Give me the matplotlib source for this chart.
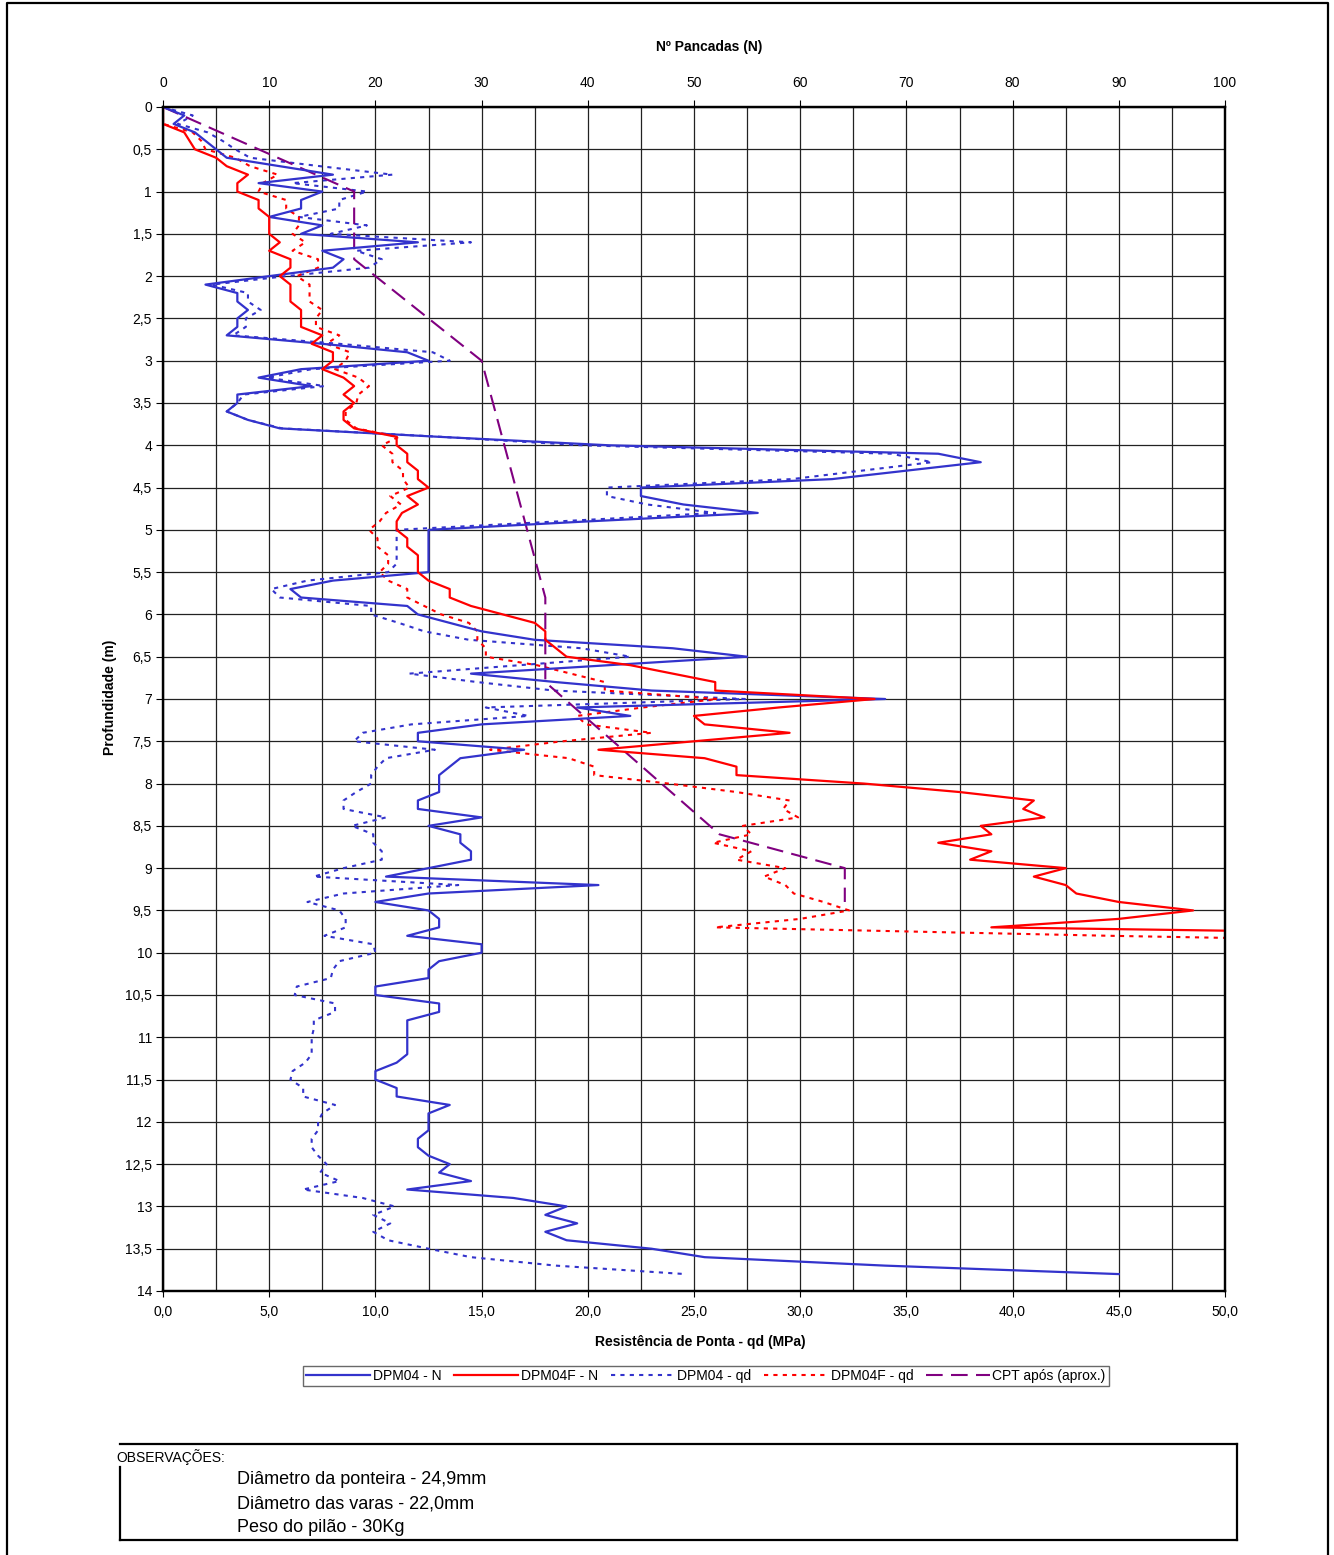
import numpy as np
import matplotlib
matplotlib.use('Agg')
import matplotlib.pyplot as plt
from matplotlib.lines import Line2D
from matplotlib.ticker import FuncFormatter, MultipleLocator

plt.rcParams['font.family'] = ['Liberation Sans', 'DejaVu Sans']

# DPM04 - blows per 10 cm, from 0,0 m every 0,1 m
n_dpm04 = [0, 2, 1, 3, 4, 5, 6, 11, 16, 9,
           15, 13, 13, 10, 15, 13, 24, 15, 17, 16,
           10, 4, 7, 7, 8, 7, 7, 6, 15, 23,
           25, 13, 9, 14, 7, 7, 6, 8, 11, 26,
           42, 73, 77, 70, 63, 45, 45, 49, 56, 40,
           25, 25, 25, 25, 25, 25, 16, 12, 13, 23,
           24, 27, 30, 35, 48, 55, 42, 29, 37, 46,
           68, 39, 44, 30, 24, 24, 34, 28, 27, 26,
           26, 26, 24, 24, 30, 25, 28, 28, 29, 29,
           25, 21, 41, 25, 20, 25, 26, 26, 23, 30,
           30, 26, 25, 25, 20, 20, 26, 26, 23, 23,
           23, 23, 23, 22, 20, 20, 22, 22, 27, 25,
           25, 25, 24, 24, 25, 27, 26, 29, 23, 33,
           38, 36, 39, 36, 38, 46, 51, 68, 90]

# DPM04 - qd (MPa)
qd_dpm04 = [0, 1.4, 0.7, 2.1, 2.8, 3.4, 4.1, 7.4, 10.8, 6.1,
            9.6, 8.3, 8.3, 6.4, 9.6, 7.9, 14.5, 9.1, 10.3, 9.7,
            5.8, 2.3, 4.0, 4.0, 4.6, 3.9, 3.9, 3.3, 8.3, 12.7,
            13.5, 7.0, 4.9, 7.6, 3.8, 3.5, 3.0, 4.0, 5.6, 13.1,
            19.7, 34.3, 36.2, 32.9, 29.6, 20.9, 20.9, 22.8, 26.0, 18.6,
            11.0, 11.0, 11.0, 11.0, 11.0, 10.6, 6.8, 5.1, 5.5, 9.8,
            9.8, 11.1, 12.3, 14.4, 19.7, 22.0, 16.8, 11.6, 14.8, 18.4,
            27.4, 15.2, 17.2, 11.7, 9.4, 9.0, 12.8, 10.5, 10.1, 9.8,
            9.8, 9.1, 8.5, 8.5, 10.5, 8.9, 9.9, 9.9, 10.3, 10.3,
            8.5, 7.1, 13.9, 8.5, 6.8, 8.3, 8.6, 8.6, 7.6, 9.9,
            10.0, 8.3, 8.0, 7.9, 6.3, 6.2, 8.1, 8.1, 7.1, 7.1,
            7.0, 7.0, 7.0, 6.7, 6.1, 6.0, 6.6, 6.6, 8.1, 7.5,
            7.3, 7.3, 7.0, 7.0, 7.3, 7.7, 7.4, 8.3, 6.6, 9.4,
            10.9, 9.9, 10.7, 9.9, 10.6, 12.5, 14.5, 18.5, 24.6]

# DPM04F - blows per 10 cm
n_dpm04f = [0, 0, 0, 2, 2.5, 3, 5, 6, 8, 7,
            7, 9, 9, 10, 10, 10, 11, 10, 12, 12,
            11, 12, 12, 12, 13, 13, 13, 15, 14, 16,
            16, 15, 17, 18, 17, 18, 17, 17, 18, 22,
            22, 23, 23, 24, 24, 25, 23, 24, 22.5, 22,
            22, 23, 23, 24, 24, 24, 25, 27, 27, 29,
            32, 35, 36, 36, 37, 38, 44, 48, 52, 52,
            67, 58, 50, 51, 59, 50, 41, 51, 54, 54,
            66, 75, 82, 81, 83, 77, 78, 73, 78, 76,
            85, 82, 85, 86, 90, 97, 90, 78, 134, 200]

# DPM04F - qd (MPa)
qd_dpm04f = [0, 0, 0, 1.4, 1.8, 2.0, 3.4, 4.1, 5.4, 4.7,
             4.5, 5.8, 5.8, 6.4, 6.4, 6.1, 6.7, 6.1, 7.3, 7.3,
             6.3, 6.9, 6.9, 6.9, 7.5, 7.2, 7.2, 8.3, 7.7, 8.8,
             8.6, 8.1, 9.2, 9.7, 9.2, 9.1, 8.6, 8.6, 9.1, 11.1,
             10.3, 10.8, 10.8, 11.3, 11.3, 11.6, 10.7, 11.2, 10.5, 10.2,
             9.7, 10.1, 10.1, 10.6, 10.6, 10.2, 10.6, 11.5, 11.5, 12.3,
             13.1, 14.4, 14.8, 14.8, 15.2, 15.2, 17.6, 19.2, 20.8, 20.8,
             26.1, 22.6, 19.5, 19.9, 23.0, 18.8, 15.4, 19.1, 20.3, 20.3,
             23.8, 27.0, 29.5, 29.2, 29.9, 27.3, 27.7, 25.9, 27.7, 27.0,
             29.3, 28.3, 29.3, 29.7, 31.1, 32.3, 30.0, 26.0, 44.6, 66.6]

# CPT after (approx.)
cpt_depth = [0.0, 1.0, 1.8, 3.0, 5.8, 6.8, 8.6, 9.0, 9.4]
cpt_qc = [0.0, 9.0, 9.0, 15.0, 18.0, 18.0, 26.2, 32.1, 32.1]

depth_a = np.arange(len(n_dpm04)) / 10
depth_b = np.arange(len(n_dpm04f)) / 10

W, H = 1334, 1555
fig = plt.figure(figsize=(W / 100, H / 100), dpi=100)


def fx(px):
    return px / W


def fy(py):
    return 1 - py / H


ax = fig.add_axes([fx(163), fy(1291), fx(1225) - fx(163), fy(107) - fy(1291)])
ax2 = ax.twiny()

blue = '#3333cc'
red = '#ff0000'
purple = '#800080'

l3, = ax.plot(qd_dpm04, depth_a, color=blue, lw=1.5, ls=(0, (2, 2.5)), label='DPM04 - qd')
l4, = ax.plot(qd_dpm04f, depth_b, color=red, lw=1.5, ls=(0, (2, 2.5)), label='DPM04F - qd')
l5, = ax.plot(cpt_qc, cpt_depth, color=purple, lw=1.5, ls=(0, (8, 4)), label='CPT após (aprox.)')
l1, = ax2.plot(n_dpm04, depth_a, color=blue, lw=1.6, label='DPM04 - N')
l2, = ax2.plot(n_dpm04f, depth_b, color=red, lw=1.6, label='DPM04F - N')

ax.set_xlim(0, 50)
ax2.set_xlim(0, 100)
ax.set_ylim(14, 0)

ax.xaxis.set_major_locator(MultipleLocator(5))
ax.xaxis.set_minor_locator(MultipleLocator(2.5))
ax.xaxis.set_major_formatter(FuncFormatter(lambda v, p: f'{v:.1f}'.replace('.', ',')))
ax.yaxis.set_major_locator(MultipleLocator(0.5))


def yfmt(v, p):
    if abs(v - round(v)) < 1e-6:
        return str(int(round(v)))
    return f'{v:.1f}'.replace('.', ',')


ax.yaxis.set_major_formatter(FuncFormatter(yfmt))
ax2.xaxis.set_major_locator(MultipleLocator(10))

ax.grid(True, which='both', axis='x', color='#222222', lw=0.9)
ax.grid(True, which='major', axis='y', color='#222222', lw=0.9)
ax.set_axisbelow(True)

ax.tick_params(axis='x', which='major', labelsize=10, length=4, pad=6, direction='out')
ax.tick_params(axis='x', which='minor', length=0)
ax.tick_params(axis='y', labelsize=10, length=5, pad=3, direction='out')
ax2.tick_params(axis='x', labelsize=10, length=5, pad=7, direction='out')

for a in (ax, ax2):
    for s in a.spines.values():
        s.set_linewidth(1.6)
        s.set_color('black')

fig.text(fx(709), fy(47), 'Nº Pancadas (N)', ha='center', va='center', fontsize=10, fontweight='bold')
fig.text(fx(700), fy(1342), 'Resistência de Ponta - qd (MPa)', ha='center', va='center',
         fontsize=10, fontweight='bold')
fig.text(fx(110), fy(697), 'Profundidade (m)', ha='center', va='center', rotation=90,
         fontsize=10, fontweight='bold')

leg = fig.legend(handles=[l1, l2, l3, l4, l5], loc='center', bbox_to_anchor=(fx(706), fy(1376)),
                 ncol=5, fontsize=10, frameon=True, fancybox=False, edgecolor='#444444',
                 handlelength=4.6, handletextpad=0.2, columnspacing=0.9, borderpad=0.25)
leg.get_frame().set_linewidth(1.0)

# observations box
k = dict(color='black', lw=1.6, transform=fig.transFigure)
fig.add_artist(Line2D([fx(120), fx(1237)], [fy(1444), fy(1444)], **k))
fig.add_artist(Line2D([fx(1237), fx(1237)], [fy(1444), fy(1540)], **k))
fig.add_artist(Line2D([fx(120), fx(1237)], [fy(1540), fy(1540)], **k))
fig.add_artist(Line2D([fx(120), fx(120)], [fy(1467), fy(1540)], **k))
fig.text(fx(116), fy(1457), 'OBSERVAÇÕES:', ha='left', va='center', fontsize=10)
obs = ['Diâmetro da ponteira - 24,9mm', 'Diâmetro das varas - 22,0mm', 'Peso do pilão - 30Kg']
for i, t in enumerate(obs):
    fig.text(fx(237), fy(1480 + 24 * i), t, ha='left', va='center', fontsize=13)

# page frame
fig.add_artist(Line2D([fx(7), fx(7), fx(1328), fx(1328)], [fy(1555), fy(3), fy(3), fy(1555)], **k))

fig.savefig('out.png', dpi=100)
